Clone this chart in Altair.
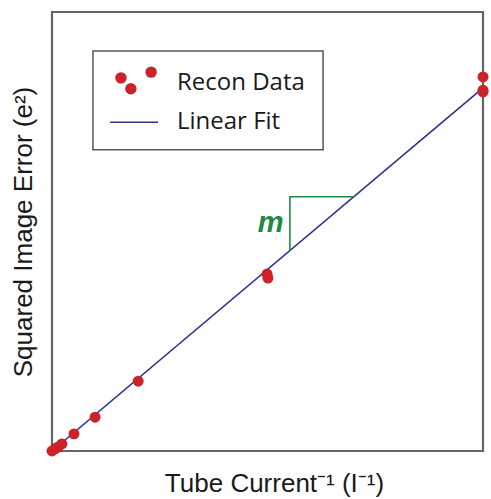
import altair as alt
import pandas as pd

# Recon data (arbitrary units)
recon_x = [0.0, 0.007, 0.014, 0.023, 0.051, 0.100, 0.200, 0.499, 0.501, 1.0, 1.0, 1.0]
recon_y = [0.0, 0.005, 0.009, 0.016, 0.039, 0.077, 0.159, 0.403, 0.394, 0.852, 0.822, 0.818]

# Linear fit endpoints
fit_x = [0.0, 1.0]
fit_y = [0.0, 0.827]

# Slope triangle
tri_x = [0.552, 0.552, 0.703]
tri_y = [0.456, 0.579, 0.579]

# Legend decoration (data space)
leg_box = {"x": 0.095, "x2": 0.629, "y": 0.686, "y2": 0.911}
leg_dots_x = [0.160, 0.183, 0.230]
leg_dots_y = [0.850, 0.825, 0.863]
leg_line = {"x": 0.135, "x2": 0.246, "y": 0.749}
leg_labels = ["Recon Data", "Linear Fit"]
leg_label_x = [0.290, 0.290]
leg_label_y = [0.822, 0.733]

RED = "#cc2229"
BLUE = "#2e3192"
GREEN = "#1e8a44"

xs = alt.Scale(domain=[0, 1], nice=False, zero=False)
ys = alt.Scale(domain=[0, 1], nice=False, zero=False)

x_axis = alt.Axis(labels=False, ticks=False, domain=False, grid=False,
                  title="Tube Current⁻¹ (I⁻¹)", titleFont="Liberation Sans",
                  titleFontSize=26, titleFontWeight="normal", titleColor="#1a1a1a",
                  titlePadding=19, titleX=222)
y_axis = alt.Axis(labels=False, ticks=False, domain=False, grid=False,
                  title="Squared Image Error (e²)", titleFont="Liberation Sans",
                  titleFontSize=26, titleFontWeight="normal", titleColor="#1a1a1a",
                  titlePadding=16)

df_pts = pd.DataFrame({"x": recon_x, "y": recon_y})
df_fit = pd.DataFrame({"x": fit_x, "y": fit_y})
df_tri = pd.DataFrame({"x": tri_x, "y": tri_y, "o": [0, 1, 2]})

fit = alt.Chart(df_fit).mark_line(color=BLUE, strokeWidth=1.6, clip=False).encode(
    x=alt.X("x:Q", scale=xs, axis=x_axis),
    y=alt.Y("y:Q", scale=ys, axis=y_axis),
)

pts = alt.Chart(df_pts).mark_circle(color=RED, size=120, opacity=1, clip=False).encode(
    x=alt.X("x:Q", scale=xs),
    y=alt.Y("y:Q", scale=ys),
)

tri = alt.Chart(df_tri).mark_line(color=GREEN, strokeWidth=1.6).encode(
    x="x:Q", y="y:Q", order="o:Q"
)

m_label = alt.Chart(pd.DataFrame({"x": [0.537], "y": [0.52], "t": ["m"]})).mark_text(
    font="Liberation Sans", fontSize=29, fontWeight="bold", fontStyle="italic",
    color=GREEN, align="right", baseline="middle"
).encode(x="x:Q", y="y:Q", text="t:N")

box = alt.Chart(pd.DataFrame([leg_box])).mark_rect(
    fill="white", stroke="#555555", strokeWidth=1.5
).encode(x="x:Q", x2="x2:Q", y="y:Q", y2="y2:Q")

ldots = alt.Chart(pd.DataFrame({"x": leg_dots_x, "y": leg_dots_y})).mark_circle(
    color=RED, size=130, opacity=1
).encode(x="x:Q", y="y:Q")

lline = alt.Chart(pd.DataFrame([leg_line])).mark_rule(color=BLUE, strokeWidth=1.6).encode(
    x="x:Q", x2="x2:Q", y="y:Q"
)

ltext = alt.Chart(pd.DataFrame({"x": leg_label_x, "y": leg_label_y, "t": leg_labels})).mark_text(
    font="Open Sans", fontSize=24, color="#1a1a1a", align="left", baseline="alphabetic"
).encode(x="x:Q", y="y:Q", text="t:N")

chart = alt.layer(fit, tri, m_label, box, ldots, lline, ltext, pts).properties(
    width=431, height=439,
    autosize=alt.AutoSizeParams(type="none"),
    padding={"left": 52, "top": 12, "right": 8, "bottom": 48},
).configure_view(stroke="#666666", strokeWidth=2.2)

chart.save("out.html", embed_options={"renderer": "svg", "actions": False})
